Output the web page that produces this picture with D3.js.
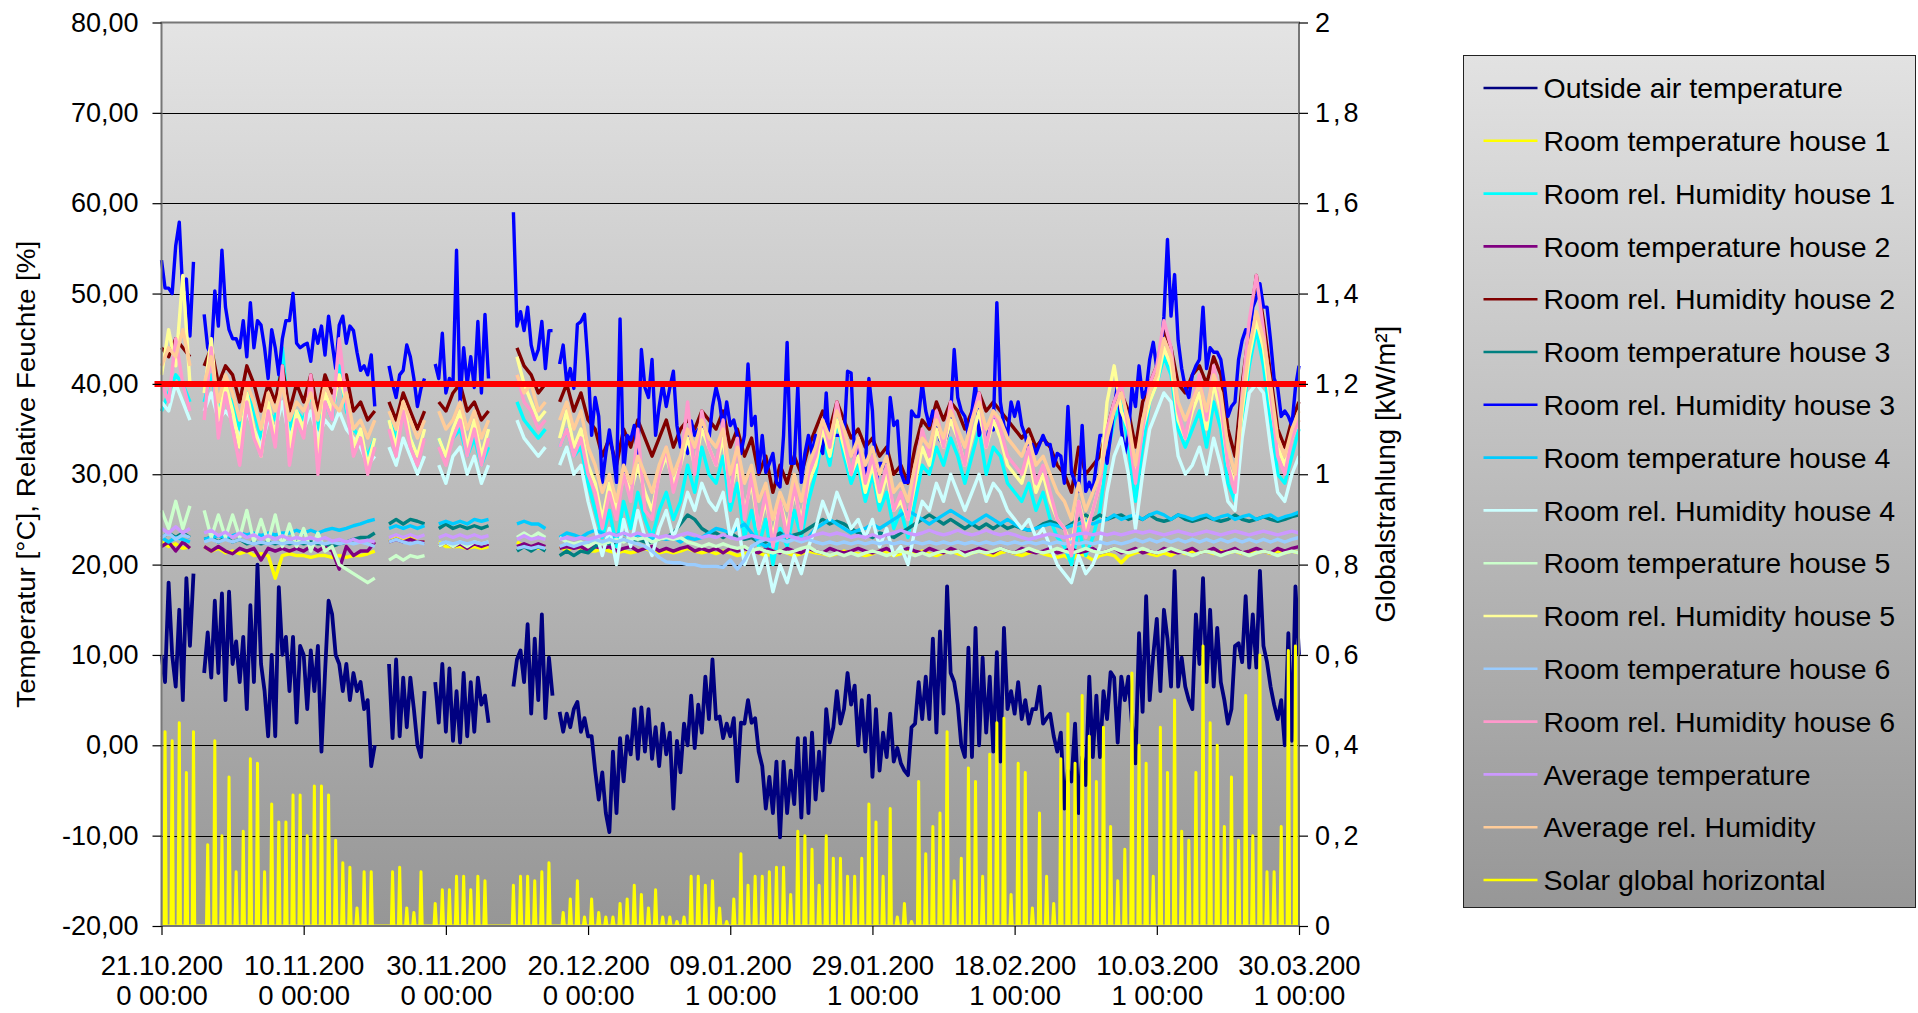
<!DOCTYPE html>
<html>
<head>
<meta charset="utf-8">
<title>Temperatur und relative Feuchte</title>
<script src="https://cdnjs.cloudflare.com/ajax/libs/d3/7.8.5/d3.min.js"></script>
<style>
	html, body { margin: 0; padding: 0; background: #fff; }
	svg { display: block; font-family: "Liberation Sans", Arial, sans-serif; }
</style>
</head>
<body>
<svg id="chart" width="1918" height="1013"></svg>
<script>

/***************************************************************************
 *
 * DATA
 *
 **************************************************************************/

var START = Date.UTC(2000, 9, 21);	// 21.10.2000 00:00
var HOUR = 3600 * 1000;
var DAY = 24 * HOUR;

var xTickDays = [0, 20, 40, 60, 80, 100, 120, 140, 160];
var leftTicks = [-20, -10, 0, 10, 20, 30, 40, 50, 60, 70, 80];
var rightTicks = [0, 0.2, 0.4, 0.6, 0.8, 1, 1.2, 1.4, 1.6, 1.8, 2];
var limitValue = 40;

var seriesNames = [
	"Outside air temperature",
	"Room temperature house 1",
	"Room rel. Humidity house 1",
	"Room temperature house 2",
	"Room rel. Humidity house 2",
	"Room temperature house 3",
	"Room rel. Humidity house 3",
	"Room temperature house 4",
	"Room rel. Humidity house 4",
	"Room temperature house 5",
	"Room rel. Humidity house 5",
	"Room temperature house 6",
	"Room rel. Humidity house 6",
	"Average temperature",
	"Average rel. Humidity",
	"Solar global horizontal"
];

// outside air temperature, one value every 12 hours
var outsideTemp = [
	10, 7, 18, 10, 6.5, 15, 5, 18.5, 11, 19,
	null, null, 8, 12.5, 7.5, 16, 8, 16.8, 5, 17,
	9, 11.5, 7, 12, 4, 15.5, 7, 20, 9, 6,
	1, 10, 1, 17.5, 10, 12, 6, 12, 2.5, 11,
	10, 4, 10.5, 6, 11, -0.7, 8, 16, 14.5, 10,
	9, 6, 9, 5, 8, 6, 7, 4, 5, -2.3,
	0, null, null, null, 9, 0.8, 9.5, 1, 7.5, 2,
	7.5, 4, 0, -1.3, 6, null, null, 7, 2.5, 9,
	1.5, 8.5, 0.5, 6, 0.3, 8, 1, 7, 1.5, 7.5,
	4.5, 5.5, 2.5, null, null, null, null, null, null, 6.5,
	9.5, 10.5, 7, 13.4, 3.5, 11.8, 5, 14.5, 3, 9.7,
	5.5, null, 3.7, 1.5, 3.5, 2, 4, 4.8, 1.5, 3,
	1, 1, -2.8, -6, -3, -7.5, -9.6, -0.7, -7.5, 0.8,
	-4, 1, -1, 4, -1.5, 4.2, -0.7, 4, -1.5, 2,
	-2.3, 2.4, -1, 1.4, -7, 0.5, -3, 2.4, 0, 5.5,
	-0.3, 4.5, 1.4, 7.6, 2.9, 9.5, 2.9, 3.2, 0.8, 2.4,
	1, 3, -4, 2.5, 2.4, 5, 2.5, 3, -0.7, -2.3,
	-7, -3.5, -7.5, -1.8, -10.2, -1.8, -7.5, -2.8, -6.5, 0.8,
	-8, 0.8, -7.5, 1.4, -6, -0.7, -5, 4, 0.3, 2,
	6, 2.4, 4, 8, 4.5, 6.6, 0, 5, -0.7, 5.5,
	-3.5, 4, -2.8, 1.4, -1.3, 3.5, -1.8, -0.3, -2, -2.8,
	-3.3, 2, 2.4, 7, 2.9, 7.6, 2.9, 11.8, 1.4, 12.6,
	3.5, 17.6, 8, 7, 4.5, 0, -1.3, 10.8, -1.3, 13,
	0, 9.7, 1.4, 7.6, -0.7, 10.3, -1.8, 13, 4, 6,
	3.5, 7, 2.9, 5, 2.4, 4, 4, 6.5, 2.4, 3,
	3.5, 1, -0.7, 1.4, -7, -2.8, -4, 2.4, -7.5, -1.3,
	-4.4, 7.6, -1.3, 5.5, -1.3, 6, 2.9, 8.1, 7.5, 0.3,
	7.6, 5, 7.6, 2.4, -2, 12.4, 3.7, 16.5, 5, 10,
	14, 6, 15, 11.8, 6.5, 19.3, 6.5, 9.7, 6.5, 5,
	4, 14.5, 9, 18.5, 7, 15, 6.5, 13, 7, 5,
	2.4, 4, 11, 11.3, 9.2, 16.5, 8.6, 14.5, 8.6, 19.3,
	11, 9.2, 6.5, 4.5, 2.9, 5, 0, 12.4, 0.5, 17.6,
	10
];

// room rel. humidity house 3, one value every 12 hours
var rhHouse3 = [
	53.7, 50.6, 50.6, 50, 55.3, 57.9, 50, 51.6, 45.3, 53.5,
	null, null, 47.7, 44, 43.2, 50.3, 46.4, 54.8, 48.5, 46,
	45, 45, 44, 47, 43, 49, 44, 47, 46.5, 44,
	40.6, 46, 44, 41, 45, 47, 47, 50, 44.5, 44,
	44.3, 44.5, 42.5, 46, 44.5, 46.4, 43.2, 47.5, 44.5, 41.7,
	46.5, 47.5, 44.5, 46.4, 45.9, 43.5, 41.5, 42, 41, 43.2,
	37.5, null, null, null, 42, 40, 38.5, 41, 41.5, 44.3,
	43, 40.6, 37.5, 39.5, 40.6, null, null, 42.2, 40.6, 45.6,
	39, 40.6, 40, 54.8, 38, 44, 40, 43, 39.6, 46.9,
	39, 47.7, 40.6, null, null, null, null, null, null, 59,
	46.4, 48, 45.9, 48.5, 44.3, 42.7, 43.8, 46.9, 41.7, 45.9,
	45.9, null, 42.2, 44.3, 40.1, 41.7, 39.5, 46.6, 46.9, 47.7,
	42.2, 34.3, 38.5, 36.4, 29.1, 32.3, 34.9, 32.3, 29.1, 47.2,
	30.2, 34.3, 33.8, 35.4, 32.3, 43.8, 39.6, 38.5, 42.7, 34.3,
	37.5, 40, 37.5, 39.6, 41.4, 35.4, 33, 33.3, 32.3, 35.9,
	34.3, 34.9, 35.4, 34.3, 33.8, 37.5, 39.6, 38, 34.9, 38,
	35.4, 36, 34.3, 32.3, 34.3, 42.2, 35.4, 36.4, 30.2, 34.3,
	30.2, 31.2, 32.3, 29.1, 28.6, 34.3, 44.6, 31.2, 31.2, 39.8,
	29.1, 32.3, 34.3, 32.3, 34.3, 33.3, 32.3, 39, 32.3, 34.3,
	34.3, 34.3, 33.8, 41.4, 41.2, 31.7, 32.8, 32.3, 30.2, 40.6,
	37, 29.1, 31.2, 31.2, 30.2, 38.5, 35.4, 35.9, 30.2, 29.1,
	29.1, 37, 36.4, 36.4, 40.1, 37, 35.4, 37, 35.9, 33.8,
	33.3, 34.3, 36.4, 43.8, 38.5, 37, 36.4, 34.3, 37, 40.1,
	34.3, 35.4, 33.3, 35.4, 34.9, 49, 38, 35.4, 34.3, 38,
	36.4, 38, 35.4, 34.3, 32.3, 33.3, 32.3, 33.3, 34.3, 33.3,
	33.3, 30.9, 32.3, 32, 29, 37.5, 30.2, 29.1, 28.1, 35.4,
	28.1, 29.1, 28.1, 31.2, 34.3, 34.3, 31.2, 34.3, 37.5, 40,
	35, 32.3, 34.3, 39.6, 37.5, 42, 38.5, 39.3, 42.7, 44.6,
	41.7, 42.7, 47.5, 56, 47.5, 52.1, 44.8, 41.7, 39.6, 38.5,
	41, 42, 42.7, 48.5, 41.7, 44, 43.5, 43.5, 42.7, 40,
	36.4, 37.5, 38, 42.7, 44.8, 46, 45.4, 48.5, 49.5, 51.1,
	48.5, 48.5, 44.8, 40.6, 39.6, 36.4, 37, 36.4, 35.4, 39.6,
	42
];

// the other series: one value per day
var tempHouse1 = [
	22.5, 22, 22.3, 21.8, 22, null, 22, 21.5, 21.8, 21.3,
	21.5, 21.2, 21.5, 21, 21.2, 21, 18.5, 21, 21.2, 21,
	21, 20.8, 21, 21, 20.8, 21, 20.8, 21, 21, 21.2,
	21.5, null, 22.5, 23, 22.8, 23, 22.5, 22.5, null, 22.5,
	22, 22, 22, 21.8, 22, 21.8, 22, null, null, null,
	22.5, 22, 22, 21.8, 22, null, 22, 21.5, 22, 21.8,
	21.5, 21.5, 21.8, 21.5, 21.3, 21.5, 21.3, 21.5, 21.8, 21.5,
	21.3, 21.5, 21.3, 21.5, 21.8, 21.5, 21.3, 21.5, 21.2, 21.5,
	21.3, 21, 21.2, 21.5, 21.3, 21, 21.2, 21.5, 21.3, 21,
	21.2, 21.5, 21.3, 21.2, 21, 21.2, 21.5, 21.3, 21.2, 21,
	21.2, 21.5, 21.3, 21, 21.2, 21.5, 21.3, 21.5, 21.2, 21,
	21.3, 21.5, 21.2, 21, 21.3, 21.5, 21.2, 21, 21.3, 21.5,
	21.2, 21, 21.3, 21.5, 21.2, 21, 20.8, 21, 20.5, 21.2,
	21, 20.5, 21, 21.2, 21, 20.2, 21, 21.3, 21.5, 21.2,
	21, 21.3, 21, 21.5, 21.2, 21.5, 21.3, 21.5, 21.2, 21.5,
	21.3, 21.5, 21.2, 21.5, 21.3, 21.5, 21.2, 21.5, 21.3, 21.5,
	21.3
];

var rhHouse1 = [
	37, 39, 41, 40, 38, null, 38, 41, 37, 39,
	38, 35, 39, 37, 34, 37, 36, 44, 35, 37,
	36, 39, 35, 38, 36, 42, 37, 35, 34, 32,
	34, null, 36, 34, 37, 34, 32, 34, null, 34,
	32, 34, 35, 32, 34, 31, 33, null, null, null,
	38, 36, 35, 34, 35, null, 33, 35, 32, 33,
	29, 26, 23, 26, 22, 27, 24, 28, 25, 23,
	26, 28, 25, 27, 31, 28, 33, 30, 29, 32,
	26, 29, 23, 26, 22, 25, 20, 24, 22, 26,
	23, 27, 30, 34, 31, 36, 32, 29, 31, 27,
	30, 26, 28, 24, 26, 23, 27, 31, 30, 33,
	31, 34, 32, 29, 32, 35, 30, 33, 32, 29,
	28, 27, 29, 26, 28, 25, 23, 22, 20, 24,
	21, 23, 26, 32, 36, 38, 33, 27, 33, 38,
	40, 43, 41, 35, 33, 35, 37, 33, 38, 35,
	29, 27, 36, 42, 46, 42, 36, 30, 29, 32,
	35
];

var tempHouse2 = [
	22, 22.5, 21.5, 22.5, 21.8, null, 22, 21.5, 22, 21.5,
	21.2, 21.8, 21.5, 21.8, 20.5, 21.8, 21.5, 21.8, 21.5, 21.8,
	21.5, 22, 21.5, 22, 21.5, 19.5, 22, 21, 21.5, 21.5,
	22.5, null, 22.5, 22.8, 22.5, 22.8, 22.5, 22.5, null, 22,
	22.5, 22, 22.3, 21.8, 22.3, 22, 22.3, null, null, null,
	22, 22.3, 22, 22.3, 22, null, 21.8, 22, 21.8, 22,
	21.5, 22, 21.8, 22, 21.5, 21.8, 22, 21.5, 21.8, 22,
	21.5, 21.8, 21.5, 21.8, 22, 21.5, 21.8, 21.5, 21.8, 21.3,
	21.8, 21.5, 21.8, 21.5, 21.3, 21.8, 21.5, 21.3, 21.8, 21.5,
	21.3, 21.8, 21.5, 21.3, 21.8, 21.5, 21.3, 21.5, 21.8, 21.5,
	21.3, 21.5, 21.8, 21.3, 21.5, 21.8, 21.5, 21.3, 21.8, 21.5,
	21.3, 21.8, 21.5, 21.3, 21.5, 21.8, 21.5, 21.3, 21.8, 21.5,
	21.3, 21.8, 21.5, 21.3, 21.5, 21.8, 21.3, 21.5, 21.8, 21.3,
	21.5, 21.8, 21.3, 21.5, 21.8, 21.3, 21.5, 21.8, 21.3, 21.5,
	21.3, 21.8, 21.5, 21.3, 21.5, 21.8, 21.3, 21.5, 21.8, 21.3,
	21.5, 21.8, 21.3, 21.5, 21.8, 21.5, 21.3, 21.8, 21.5, 21.8,
	22
];

var rhHouse2 = [
	44, 43, 45, 44, 43, null, 42, 44, 40, 42,
	41, 38, 42, 40, 37, 40, 38, 42, 37, 40,
	38, 41, 37, 41, 39, 40, 41, 37, 38, 36,
	37, null, 38, 36, 39, 37, 35, 37, null, 38,
	37, 39, 40, 37, 38, 36, 37, null, null, null,
	44, 42, 41, 39, 40, null, 38, 40, 37, 39,
	36, 35, 32, 34, 31, 35, 33, 36, 34, 32,
	34, 36, 33, 35, 36, 35, 37, 36, 35, 37,
	33, 35, 32, 34, 30, 32, 28, 31, 29, 32,
	30, 33, 35, 37, 35, 38, 36, 34, 35, 33,
	34, 32, 33, 30, 31, 29, 33, 36, 35, 38,
	36, 38, 37, 35, 37, 39, 37, 38, 37, 36,
	35, 34, 35, 33, 34, 33, 31, 30, 28, 33,
	30, 31, 32, 35, 38, 39, 37, 33, 38, 40,
	42, 46, 44, 40, 39, 41, 42, 40, 43, 41,
	35, 32, 40, 46, 52, 47, 41, 35, 33, 36,
	38
];

var tempHouse3 = [
	23, 23.5, 23, 23.5, 23, null, 22.8, 23, 22.5, 23,
	22.5, 22.8, 22.3, 22.5, 22.3, 22.5, 22.3, 22.5, 22.3, 22.5,
	22.3, 22.5, 22.3, 22.3, 22, 22.3, 22.5, 22.8, 23, 23,
	23.5, null, 24.5, 25, 24.5, 25, 24.8, 24.5, null, 24,
	24.5, 24, 24.3, 24, 24.3, 24, 24.3, null, null, null,
	21.5, 22, 21.5, 22, 21.5, null, 21, 21.5, 21, 21.5,
	21.3, 22, 22.5, 22.3, 22.5, 22.8, 22.5, 22.8, 22.5, 22.5,
	22.8, 23, 23.5, 24.5, 25.5, 25, 24, 23.5, 23.5, 23,
	23.5, 23, 22.8, 23, 22.5, 22.5, 23, 23.5, 23, 23.3,
	23.5, 24, 24.5, 25, 24.5, 24.8, 24.5, 24, 23.5, 23.3,
	23, 23.5, 23.3, 23, 23.5, 24, 24.5, 25, 25.5, 25,
	24.5, 25, 24.5, 24, 24.5, 24, 24.5, 24, 24.5, 24,
	24.3, 24, 23.8, 24, 24.5, 24.8, 24.5, 24, 24.5, 25,
	25.5, 25, 25.5, 25, 25.3, 25.5, 25, 25.3, 25, 25.5,
	25, 24.8, 25, 25.5, 25, 24.8, 25, 25.3, 25, 24.8,
	25, 25.5, 25, 24.8, 25, 25.3, 25, 24.8, 25, 25.3,
	25.5
];

var tempHouse4 = [
	23, 22.5, 23, 22.8, 22.5, null, 22.8, 23, 23.2, 23,
	23.2, 23.5, 23.3, 23.5, 23.2, 23.5, 23.3, 23.5, 23.5, 23.8,
	23.5, 23.8, 23.5, 23.8, 24, 23.8, 24, 24.3, 24.5, 24.8,
	25, null, 24, 24.3, 24, 24.3, 24, 24.3, null, 24.5,
	24.8, 24.5, 24.8, 24.5, 25, 24.8, 25, null, null, null,
	24.5, 24.8, 24.5, 24.5, 24, null, 23, 23.5, 23.3, 23,
	23.5, 23.8, 23.5, 23, 23.3, 23.5, 23, 23.3, 23, 22.8,
	23, 22.8, 23, 22.5, 23, 22.8, 23, 23.5, 24, 23.8,
	23.5, 24, 24.5, 23.5, 22.5, 22, 22.5, 23, 23.5, 23,
	22.8, 23, 24, 24.5, 25, 24.5, 24, 23.5, 23.8, 24,
	24.5, 24, 24.5, 25, 25.5, 26, 25.5, 25, 24.5, 25,
	25.5, 26, 25.5, 25, 24.5, 25, 25.5, 25, 24.5, 25,
	24.5, 24, 23.8, 24, 24.3, 24.5, 24.3, 24, 24.3, 24.5,
	24.8, 24.5, 24.8, 25, 25.5, 25, 25.3, 25.5, 25, 25.5,
	25.8, 25.5, 25, 25.5, 25.3, 25, 25.3, 25.5, 25, 25.3,
	25.5, 25, 25.3, 25.5, 25, 25.3, 25.5, 25, 25.3, 25.5,
	25.8
];

var rhHouse4 = [
	38, 37, 40, 38, 36, null, 37, 39, 36, 37,
	36, 34, 37, 35, 33, 36, 35, 38, 34, 36,
	35, 37, 34, 36, 35, 37, 35, 34, 33, 31,
	32, null, 33, 31, 34, 32, 30, 32, null, 31,
	29, 32, 33, 30, 32, 29, 31, null, null, null,
	36, 34, 33, 32, 33, null, 31, 33, 30, 31,
	27, 24, 21, 24, 20, 25, 22, 26, 23, 21,
	24, 26, 23, 25, 28, 26, 29, 27, 26, 28,
	23, 25, 20, 22, 19, 21, 17, 20, 18, 21,
	19, 22, 24, 27, 25, 28, 26, 24, 25, 23,
	25, 22, 24, 21, 22, 20, 24, 27, 26, 29,
	27, 30, 28, 26, 28, 30, 27, 29, 28, 26,
	25, 24, 25, 23, 24, 22, 20, 19, 18, 21,
	19, 20, 22, 28, 32, 34, 30, 24, 30, 35,
	37, 39, 38, 32, 30, 31, 33, 30, 34, 31,
	27, 26, 34, 39, 40, 39, 33, 28, 27, 30,
	32
];

var tempHouse5 = [
	26, 24, 27, 24, 26.5, null, 26, 23, 25.5, 23,
	25.5, 23, 26, 22.5, 25, 22.5, 25.5, 22, 24.5, 22,
	24, 21.5, 23.5, 21.5, 22, 20, 19.5, 19, 18.5, 18,
	18.5, null, 20.5, 21, 20.5, 21, 20.8, 21, null, 22,
	22.5, 22, 22.5, 22, 22.5, 22.3, 22.5, null, null, null,
	23, 23.5, 23, 23.5, 23, null, 23, 22.5, 22.3, 22.5,
	22, 22.5, 22.3, 22.5, 22.8, 22.5, 23, 22.8, 23, 22.5,
	22.8, 23, 22.8, 23, 22.5, 22.3, 22, 22.3, 22, 22.3,
	22, 21.8, 22, 21.5, 21.8, 21.5, 21.3, 21.5, 21.3, 21.5,
	21.8, 22, 21.5, 21.3, 21, 21.3, 21, 21.3, 21, 21.3,
	21.5, 21.3, 21, 21.3, 21.5, 21.3, 21, 21.3, 21, 21.3,
	21.5, 21.3, 21.5, 21, 21.3, 21.5, 21.3, 21.5, 21.8, 21.5,
	21.3, 21.5, 21.8, 21.5, 21.3, 21.5, 21.8, 21.5, 21.3, 21.5,
	21.8, 21.5, 21.3, 21.5, 21.8, 21.5, 21.3, 21.5, 21.8, 21.5,
	21.3, 21.5, 21.8, 21.5, 21.3, 21, 21.3, 21.5, 21.3, 21,
	21.3, 21.5, 21.3, 21, 21.3, 21.5, 21.3, 21, 21.3, 21.5,
	21.3
];

var rhHouse5 = [
	41, 46, 42, 52, 40, null, 39, 45, 36, 40,
	37, 33, 39, 35, 32, 38, 34, 41, 33, 37,
	35, 40, 32, 39, 37, 41, 38, 33, 35, 31,
	34, null, 36, 33, 38, 34, 32, 35, null, 34,
	32, 35, 37, 33, 36, 32, 35, null, null, null,
	43, 40, 38, 36, 37, null, 34, 37, 33, 35,
	31, 29, 25, 29, 26, 30, 28, 31, 28, 26,
	30, 32, 29, 31, 34, 31, 35, 33, 31, 34,
	28, 31, 26, 29, 24, 27, 23, 27, 24, 28,
	25, 29, 31, 35, 32, 36, 33, 30, 32, 28,
	31, 27, 30, 26, 27, 25, 29, 33, 31, 35,
	33, 36, 34, 31, 34, 37, 33, 36, 34, 31,
	30, 29, 32, 28, 30, 27, 25, 24, 22, 27,
	24, 26, 29, 38, 42, 37, 35, 30, 35, 38,
	40, 44, 42, 36, 34, 37, 39, 35, 40, 37,
	31, 29, 37, 43, 47, 44, 38, 33, 31, 34,
	36
];

var tempHouse6 = [
	23, 23.5, 22.8, 23.3, 23, null, 22.5, 22.8, 22.5, 22.8,
	22.5, 22.8, 22.5, 22.3, 22.5, 22.3, 22.5, 22.3, 22.5, 22.3,
	22.5, 22.3, 22.5, 22.3, 22.5, 22.3, 22.5, 22.3, 22.5, 22.3,
	22, null, 22.5, 22.8, 22.5, 22.3, 22.5, 22.3, null, 22.3,
	22.5, 22.3, 22.5, 22.3, 22.5, 22.3, 22.5, null, null, null,
	21.8, 22, 21.8, 22, 21.8, null, 22, 22.3, 22, 22.3,
	22.5, 22.8, 22.5, 22.8, 22.5, 22.8, 22.5, 22.3, 22, 21.5,
	20.8, 20.3, 20.2, 20.2, 20, 20, 19.8, 19.8, 19.8, 19.7,
	20.5, 19.5, 20.5, 22, 22.5, 22.8, 22.5, 22.8, 22.5, 22.8,
	22.5, 22.8, 22.5, 22.3, 22.5, 22.3, 22.5, 22.3, 22.5, 22.3,
	22.5, 22.3, 22.5, 22.3, 22.5, 22.3, 22.5, 22.3, 22.5, 22.3,
	22.5, 22.3, 22.5, 22.3, 22.5, 22.3, 22.5, 22.3, 22.5, 22.3,
	22.5, 22.3, 22.5, 22.3, 22.5, 22.3, 22.5, 22.3, 22.5, 22.3,
	22.5, 22.3, 22.5, 22.3, 22.5, 22.3, 22.5, 22.8, 22.5, 22.8,
	22.5, 22.8, 22.5, 22.8, 22.5, 22.8, 22.5, 22.8, 22.5, 22.8,
	22.5, 22.8, 22.5, 22.8, 22.5, 22.8, 22.5, 22.8, 22.5, 22.8,
	23
];

var rhHouse6 = [
	40, 38, 45, 40, 37, null, 36, 44, 34, 39,
	35, 31, 38, 34, 32, 37, 33, 42, 31, 36,
	34, 41, 30, 38, 36, 45, 38, 32, 34, 30,
	33, null, 35, 32, 37, 33, 31, 34, null, 33,
	31, 34, 36, 32, 35, 31, 34, null, null, null,
	41, 38, 37, 35, 36, null, 33, 35, 32, 34,
	30, 28, 24, 28, 25, 30, 27, 35, 26, 25,
	30, 33, 28, 31, 38, 30, 37, 33, 31, 36,
	27, 34, 25, 30, 24, 28, 22, 27, 23, 29,
	24, 30, 32, 36, 33, 38, 34, 30, 34, 29,
	32, 28, 31, 26, 28, 25, 30, 35, 32, 37,
	33, 38, 34, 31, 36, 39, 33, 37, 35, 32,
	31, 30, 33, 29, 31, 28, 25, 24, 21, 27,
	23, 26, 29, 35, 38, 40, 35, 29, 35, 40,
	42, 47, 44, 37, 34, 38, 41, 36, 42, 38,
	31, 28, 39, 47, 52, 46, 39, 32, 30, 34,
	36
];

var avgTemp = [
	24, 23.5, 24.2, 23.5, 24, null, 23.5, 23.8, 23.2, 23.6,
	23, 23.5, 23, 23.3, 22.8, 23.2, 22.8, 23.2, 22.8, 23,
	22.8, 23, 22.7, 23, 22.6, 22.8, 22.5, 22.8, 22.5, 22.7,
	22.5, null, 23, 23.3, 23, 23.3, 23, 23.3, null, 23,
	23.3, 23, 23.3, 23, 23.3, 23, 23.2, null, null, null,
	22.8, 23.2, 22.8, 23, 22.8, null, 22.8, 23, 22.8, 23,
	22.8, 23, 23.2, 23.5, 23.2, 23.5, 23.2, 23.5, 23.2, 23.3,
	23, 23.2, 23, 23.3, 23.5, 23.3, 23, 23.2, 23, 23.3,
	23, 22.8, 23, 23.2, 23, 22.8, 22.8, 23, 23.2, 23,
	22.8, 23, 23.3, 23.5, 23.3, 23.5, 23.3, 23, 23.2, 23,
	23.3, 23, 23.3, 23.5, 23.8, 23.5, 23.3, 23.5, 23.8, 23.5,
	23.3, 23.5, 23.8, 23.5, 23.3, 23.5, 23.8, 23.5, 23.3, 23.5,
	23.3, 23, 22.8, 23, 23.2, 23.4, 23.2, 23, 23.2, 23.4,
	23.5, 23.3, 23.5, 23.3, 23.5, 23.3, 23.5, 23.7, 23.5, 23.7,
	23.5, 23.3, 23.5, 23.7, 23.5, 23.3, 23.5, 23.7, 23.5, 23.3,
	23.5, 23.7, 23.5, 23.3, 23.5, 23.7, 23.5, 23.3, 23.5, 23.7,
	23.5
];

var avgRh = [
	42, 44, 43, 46, 42, null, 40, 43, 38, 41,
	39, 36, 40, 38, 35, 39, 37, 40, 36, 38,
	37, 39, 36, 40, 38, 37, 39, 35, 36, 34,
	36, null, 37, 35, 38, 36, 34, 36, null, 37,
	35, 36, 38, 35, 37, 34, 36, null, null, null,
	41, 39, 40, 37, 38, null, 36, 38, 35, 37,
	33, 31, 28, 30, 27, 31, 29, 32, 30, 28,
	31, 33, 30, 32, 35, 33, 36, 34, 33, 35,
	30, 33, 29, 31, 27, 29, 25, 28, 26, 30,
	27, 31, 33, 36, 34, 37, 35, 32, 34, 31,
	33, 30, 32, 28, 29, 27, 31, 34, 33, 36,
	34, 37, 35, 33, 36, 38, 35, 37, 36, 34,
	33, 32, 34, 31, 32, 30, 28, 27, 25, 29,
	26, 28, 30, 34, 37, 39, 36, 31, 36, 39,
	41, 45, 43, 38, 36, 38, 40, 37, 41, 39,
	33, 30, 38, 44, 48, 45, 40, 34, 32, 35,
	37
];

// solar global horizontal, daily noon peak in kW/m²
var solarPeak = [
	0.43, 0.41, 0.45, 0.34, 0.43, 0, 0.18, 0.41, 0.2, 0.33,
	0.12, 0.21, 0.37, 0.36, 0.12, 0.27, 0.23, 0.23, 0.29, 0.29,
	0.2, 0.31, 0.31, 0.29, 0.19, 0.14, 0.13, 0.04, 0.12, 0.12,
	0, 0, 0.12, 0.13, 0.04, 0.03, 0.12, 0, 0.05, 0.08,
	0.08, 0.11, 0.11, 0.08, 0.11, 0.1, 0, 0, 0, 0.09,
	0.11, 0.11, 0.1, 0.12, 0.14, 0, 0.03, 0.06, 0.1, 0.02,
	0.06, 0.03, 0.02, 0.02, 0.05, 0.06, 0.09, 0.07, 0.04, 0.08,
	0.02, 0.02, 0.01, 0.02, 0.11, 0.11, 0.09, 0.1, 0.04, 0.01,
	0.06, 0.16, 0.09, 0.11, 0.11, 0.12, 0.13, 0.13, 0.07, 0.21,
	0.2, 0.17, 0.09, 0.2, 0.15, 0.15, 0.11, 0.11, 0.15, 0.27,
	0.23, 0.11, 0.26, 0.02, 0.05, 0.01, 0.32, 0.16, 0.22, 0.25,
	0.43, 0.1, 0.15, 0.35, 0.32, 0.11, 0.38, 0.45, 0.46, 0.07,
	0.36, 0.34, 0.04, 0.25, 0.11, 0.05, 0.37, 0.47, 0.36, 0.51,
	0.42, 0.32, 0.44, 0.22, 0.1, 0.17, 0.56, 0.4, 0.36, 0.11,
	0.44, 0.34, 0.5, 0.21, 0.19, 0.34, 0.62, 0.45, 0.4, 0.22,
	0.33, 0.19, 0.51, 0.2, 0.6, 0.12, 0.12, 0.22, 0.61, 0.62
];

/***************************************************************************
 *
 * STYLE / LAYOUT
 *
 **************************************************************************/

var seriesColors = [
	"#000080", "#ffff00", "#00ffff", "#800080", "#800000", "#008080",
	"#0000ff", "#00ccff", "#ccffff", "#ccffcc", "#ffff99", "#99ccff",
	"#ff99cc", "#cc99ff", "#ffcc99", "#ffff00"
];

var W = 1918, H = 1013;
var plot = { left: 161.5, right: 1299, top: 22.5, bottom: 926 };
var LINE_WIDTH = 3.4;

// daylight part of a day used to draw each solar spike
var SUN_RISE = 0.33, SUN_NOON = 0.5, SUN_SET = 0.67;

/***************************************************************************
 *
 * HELPERS
 *
 **************************************************************************/

function toPoints(values, step)
{
	return values.map(function(v, i)
	{
		return { t: new Date(START + i * step), v: v };
	});
}

function solarPoints(peaks)
{
	var pts = [];
	peaks.forEach(function(p, d)
	{
		pts.push({ t: new Date(START + (d + SUN_RISE) * DAY), v: 0 });
		pts.push({ t: new Date(START + (d + SUN_NOON) * DAY), v: p });
		pts.push({ t: new Date(START + (d + SUN_SET) * DAY), v: 0 });
	});
	return pts;
}

/***************************************************************************
 *
 * DRAWING
 *
 **************************************************************************/

var svg = d3.select("#chart");

var x = d3.scaleUtc()
	.domain([new Date(START), new Date(START + 160 * DAY)])
	.range([plot.left, plot.right]);

var y = d3.scaleLinear().domain([-20, 80]).range([plot.bottom, plot.top]);
var y2 = d3.scaleLinear().domain([0, 2]).range([plot.bottom, plot.top]);

var defs = svg.append("defs");

function addGradient(id, top, bottom)
{
	var g = defs.append("linearGradient")
		.attr("id", id)
		.attr("x1", 0).attr("y1", 0)
		.attr("x2", 0).attr("y2", 1);
	g.append("stop").attr("offset", "0%").attr("stop-color", top);
	g.append("stop").attr("offset", "100%").attr("stop-color", bottom);
}

addGradient("plotBg", "#e4e4e4", "#969696");
addGradient("legendBg", "#e2e2e2", "#979797");

defs.append("clipPath").attr("id", "plotClip")
	.append("rect")
		.attr("x", plot.left - 2)
		.attr("y", plot.top)
		.attr("width", plot.right - plot.left + 4)
		.attr("height", plot.bottom - plot.top);

// plot area
svg.append("rect")
	.attr("x", plot.left)
	.attr("y", plot.top)
	.attr("width", plot.right - plot.left)
	.attr("height", plot.bottom - plot.top)
	.attr("fill", "url(#plotBg)");

// horizontal grid lines
svg.append("g")
	.selectAll("line")
	.data(leftTicks.slice(1, -1))
	.enter()
	.append("line")
		.attr("x1", plot.left).attr("x2", plot.right)
		.attr("y1", function(d) { return Math.round(y(d)) + 0.5; })
		.attr("y2", function(d) { return Math.round(y(d)) + 0.5; })
		.attr("stroke", "#000")
		.attr("stroke-width", 1);

// series lines
var line = d3.line()
	.defined(function(d) { return d.v !== null; })
	.x(function(d) { return x(d.t); })
	.y(function(d) { return y(d.v); });

var lineRight = d3.line()
	.x(function(d) { return x(d.t); })
	.y(function(d) { return y2(d.v); });

var series = [
	{ values: outsideTemp, step: 12 * HOUR, width: 3.8 },
	{ values: tempHouse1, step: DAY },
	{ values: rhHouse1, step: DAY },
	{ values: tempHouse2, step: DAY },
	{ values: rhHouse2, step: DAY },
	{ values: tempHouse3, step: DAY },
	{ values: rhHouse3, step: 12 * HOUR },
	{ values: tempHouse4, step: DAY },
	{ values: rhHouse4, step: DAY },
	{ values: tempHouse5, step: DAY },
	{ values: rhHouse5, step: DAY },
	{ values: tempHouse6, step: DAY },
	{ values: rhHouse6, step: DAY },
	{ values: avgTemp, step: DAY },
	{ values: avgRh, step: DAY }
];

var lines = svg.append("g").attr("clip-path", "url(#plotClip)");

series.forEach(function(s, i)
{
	lines.append("path")
		.datum(toPoints(s.values, s.step))
		.attr("d", line)
		.attr("fill", "none")
		.attr("stroke", seriesColors[i])
		.attr("stroke-width", s.width || LINE_WIDTH)
		.attr("stroke-linejoin", "round");
});

lines.append("path")
	.datum(solarPoints(solarPeak))
	.attr("d", lineRight)
	.attr("fill", "none")
	.attr("stroke", seriesColors[15])
	.attr("stroke-width", 3)
	.attr("stroke-linejoin", "round");

// plot border
svg.append("rect")
	.attr("x", plot.left)
	.attr("y", plot.top)
	.attr("width", plot.right - plot.left)
	.attr("height", plot.bottom - plot.top)
	.attr("fill", "none")
	.attr("stroke", "#777")
	.attr("stroke-width", 2);

// red limit line at 40
svg.append("line")
	.attr("x1", x.range()[0] - 7)
	.attr("x2", x.range()[1] + 7)
	.attr("y1", y(limitValue))
	.attr("y2", y(limitValue))
	.attr("stroke", "#ff0000")
	.attr("stroke-width", 6);

/* axes */

function styleAxis(g)
{
	g.select(".domain").remove();
	g.selectAll(".tick line").attr("stroke", "#000").attr("stroke-width", 1.2);
	g.selectAll(".tick text")
		.attr("fill", "#000")
		.style("font-family", "'Liberation Sans', Arial, sans-serif");
}

var fmtLeft = function(d)
{
	return d3.format(".2f")(d).replace("\u2212", "-").replace(".", ",");
};

svg.append("g")
	.attr("transform", "translate(" + plot.left + ",0)")
	.call(d3.axisLeft(y).tickValues(leftTicks).tickFormat(fmtLeft)
		.tickSize(9).tickSizeOuter(0).tickPadding(14))
	.call(styleAxis)
	.selectAll(".tick text")
		.style("font-size", "27px");

svg.append("g")
	.attr("transform", "translate(" + plot.right + ",0)")
	.call(d3.axisRight(y2).tickValues(rightTicks)
		.tickFormat(function(d) { return String(d).replace(".", ","); })
		.tickSize(9).tickSizeOuter(0).tickPadding(7))
	.call(styleAxis)
	.selectAll(".tick text")
		.style("font-size", "27px")
		.style("letter-spacing", "3px");

var fmtDate = d3.utcFormat("%d.%m.%Y %H:%M");

var xAxis = svg.append("g")
	.attr("transform", "translate(0," + plot.bottom + ")")
	.call(d3.axisBottom(x)
		.tickValues(xTickDays.map(function(d) { return new Date(START + d * DAY); }))
		.tickFormat("")
		.tickSize(9).tickSizeOuter(0))
	.call(styleAxis);

// two-line date labels, broken after nine characters like the original
xAxis.selectAll(".tick text").remove();
xAxis.selectAll(".tick").each(function(d)
{
	var label = fmtDate(d);
	var t = d3.select(this).append("text")
		.attr("fill", "#000")
		.attr("text-anchor", "middle")
		.style("font-size", "27.5px");
	t.append("tspan").attr("x", 0).attr("y", 49).text(label.slice(0, 9));
	t.append("tspan").attr("x", 0).attr("y", 79).text(label.slice(9));
});

// axis titles
svg.append("text")
	.attr("transform", "translate(35," + ((plot.top + plot.bottom) / 2) + ") rotate(-90)")
	.attr("text-anchor", "middle")
	.attr("textLength", 467)
	.attr("lengthAdjust", "spacingAndGlyphs")
	.style("font-size", "26px")
	.text("Temperatur [°C], Relative Feuchte [%]");

svg.append("text")
	.attr("transform", "translate(1395," + ((plot.top + plot.bottom) / 2) + ") rotate(-90)")
	.attr("text-anchor", "middle")
	.attr("textLength", 297)
	.attr("lengthAdjust", "spacingAndGlyphs")
	.style("font-size", "27px")
	.text("Globalstrahlung [kW/m²]");

/* legend */

var legend = svg.append("g").attr("transform", "translate(1463.5,55.5)");

legend.append("rect")
	.attr("width", 452)
	.attr("height", 852)
	.attr("fill", "url(#legendBg)")
	.attr("stroke", "#222")
	.attr("stroke-width", 1);

var item = legend.selectAll(".item")
	.data(seriesNames)
	.enter()
	.append("g")
		.attr("class", "item")
		.attr("transform", function(d, i) { return "translate(0," + (32.5 + i * 52.8) + ")"; });

item.append("line")
	.attr("x1", 20).attr("x2", 74)
	.attr("stroke", function(d, i) { return seriesColors[i]; })
	.attr("stroke-width", 2.6);

item.append("text")
	.attr("x", 80)
	.attr("dy", "0.36em")
	.style("font-size", "28.5px")
	.text(function(d) { return d; });

</script>
</body>
</html>
